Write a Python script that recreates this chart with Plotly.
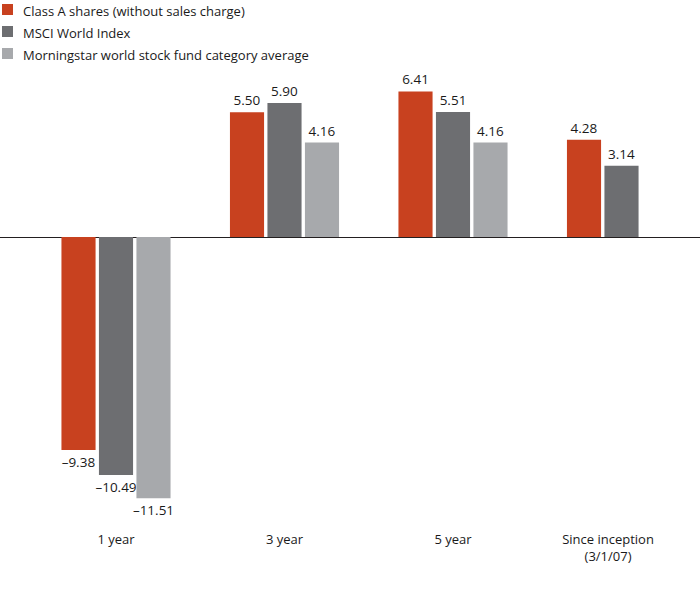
import plotly.graph_objects as go

categories = ["1 year", "3 year", "5 year", "Since inception<br>(3/1/07)"]
series_names = [
    "Class A shares (without sales charge)",
    "MSCI World Index",
    "Morningstar world stock fund category average",
]
class_a = [-9.38, 5.50, 6.41, 4.28]
msci = [-10.49, 5.90, 5.51, 3.14]
morningstar = [-11.51, 4.16, 4.16, None]
colors = ["#C8411F", "#6D6E71", "#A7A9AC"]

W, H = 700, 596
PT, PB = 70, 530  # plot area top/bottom in pixels

def fmt(v):
    return "" if v is None else f"{v:.2f}".replace("-", "\u2013")

font_family = "Open Sans"
x_pos = list(range(len(categories)))
fig = go.Figure()
for name, vals, col in zip(series_names, [class_a, msci, morningstar], colors):
    fig.add_trace(go.Bar(
        x=x_pos, y=vals, name=name, marker=dict(color=col, line=dict(width=0)),
        text=[fmt(v) for v in vals], textposition="outside", constraintext="none",
        textfont=dict(size=13.5, color="#1A1A1A", family=font_family),
        cliponaxis=False, showlegend=False, hoverinfo="skip",
    ))

# manual legend
for i, (name, col) in enumerate(zip(series_names, colors)):
    cy = 9.5 + 22 * i
    fig.add_shape(type="rect", xref="paper", yref="paper",
                  x0=2 / W, x1=13 / W,
                  y0=(PB - (cy + 5.5)) / (PB - PT), y1=(PB - (cy - 5.5)) / (PB - PT),
                  fillcolor=col, line=dict(width=0))
    fig.add_annotation(text=name, xref="paper", yref="paper",
                       x=21 / W, y=(PB - (cy + 1.5)) / (PB - PT),
                       xanchor="left", yanchor="middle", showarrow=False,
                       font=dict(size=13, color="#1A1A1A", family=font_family))

ppu = 22.7
zero_px = 237
y_top = (zero_px - PT) / ppu
y_bot = -(PB - zero_px) / ppu
cat_w = 168.5
c0 = 116
x_left = -c0 / cat_w
x_right = (W - c0) / cat_w

fig.update_layout(
    width=W, height=H,
    margin=dict(l=0, r=0, t=PT, b=H - PB),
    paper_bgcolor="white", plot_bgcolor="white",
    barmode="group", bargap=0.3325, bargroupgap=0.09,
    font=dict(family=font_family, size=13, color="#1A1A1A"),
    xaxis=dict(range=[x_left, x_right], tickvals=[0, 1, 2, 2.92], ticktext=categories,
               showgrid=False, zeroline=False, showline=False, ticks="",
               tickfont=dict(size=13, color="#1A1A1A")),
    yaxis=dict(range=[y_bot, y_top], showgrid=False, showticklabels=False,
               zeroline=True, zerolinecolor="#231F20", zerolinewidth=1, showline=False, ticks=""),
    hovermode=False,
)

fig.write_html("out.html", config={"displayModeBar": False},
               post_script="document.body.style.margin='0';document.body.style.padding='0';")
